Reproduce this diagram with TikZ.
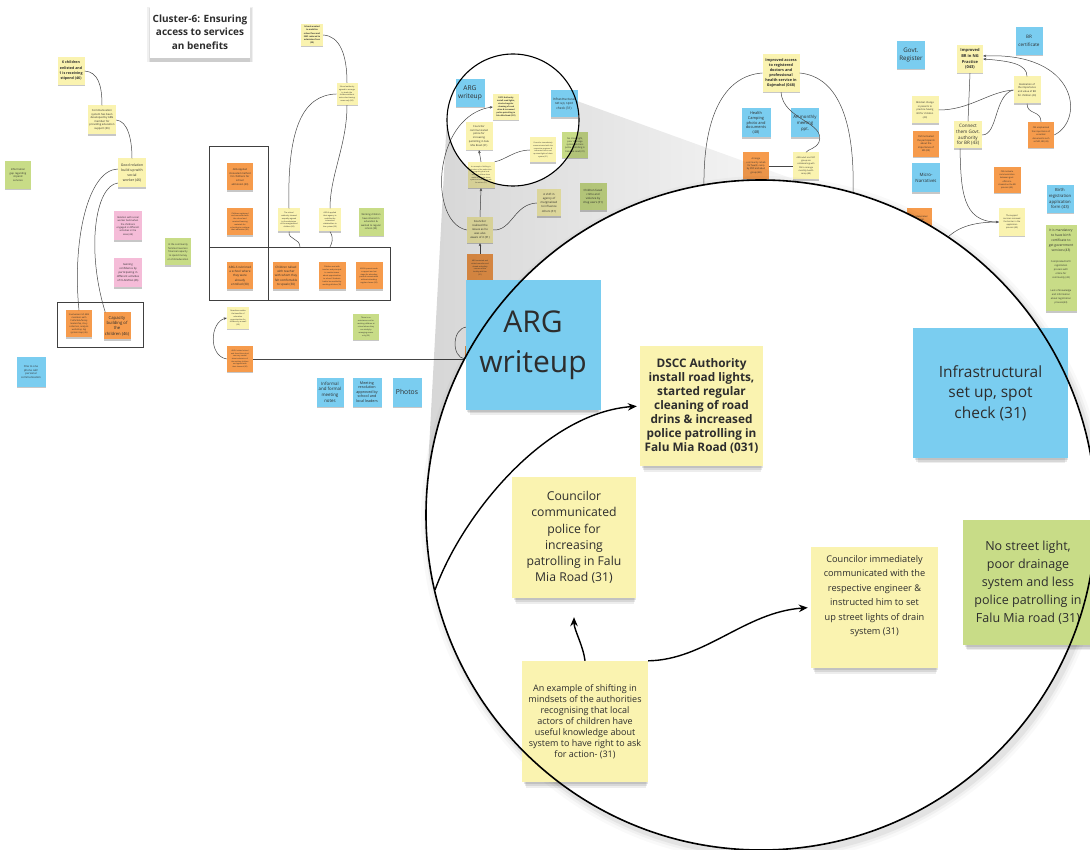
\documentclass[tikz,border=0pt]{standalone}
\usepackage{fontspec}
\setmainfont{Open Sans}
\usetikzlibrary{arrows.meta,shadows,fadings,calc}

\definecolor{noteyellow}{RGB}{250,243,176}
\definecolor{noteblue}{RGB}{122,205,240}
\definecolor{noteorange}{RGB}{246,155,76}
\definecolor{notegreen}{RGB}{200,220,135}
\definecolor{notepink}{RGB}{245,188,216}
\definecolor{notetext}{RGB}{45,45,45}
\definecolor{linkgrey}{RGB}{70,70,70}

\newcommand{\setfs}[2]{\fontsize{#1}{#2}\selectfont}

\tikzset{
  paper/.style={rectangle, inner sep=0pt, align=center, text=notetext},
  softshadow/.style={drop shadow={shadow xshift=0pt, shadow yshift=-1.3pt, opacity=0.22, fill=black}},
  deepshadow/.style={
    drop shadow={shadow xshift=1pt, shadow yshift=-3pt, opacity=0.10, fill=black, shadow scale=0.99},
    drop shadow={shadow xshift=1pt, shadow yshift=-6pt, opacity=0.09, fill=black, shadow scale=0.97},
    drop shadow={shadow xshift=1pt, shadow yshift=-9pt, opacity=0.07, fill=black, shadow scale=0.95}},
  cardshadow/.style={
    drop shadow={shadow xshift=0pt, shadow yshift=-2pt, opacity=0.06, fill=black, shadow scale=1.06},
    drop shadow={shadow xshift=0pt, shadow yshift=-3pt, opacity=0.07, fill=black, shadow scale=1.03},
    drop shadow={shadow xshift=0pt, shadow yshift=-4pt, opacity=0.08, fill=black, shadow scale=1.0}},
  sticky/.style 2 args={paper, softshadow, minimum width=#1, minimum height=#2},
  bignote/.style 2 args={paper, deepshadow, minimum width=#1, minimum height=#2},
  cY/.style={fill=noteyellow}, cB/.style={fill=noteblue}, cO/.style={fill=noteorange},
  cG/.style={fill=notegreen}, cP/.style={fill=notepink},
  link/.style={draw=linkgrey, line width=0.5pt},
  tip/.style={-{Stealth[length=3pt,width=2.6pt]}},
  biglink/.style={draw=black, line width=1.4pt, -{Stealth[length=9pt,width=7.5pt]}},
  frame/.style={draw=black!75, line width=0.6pt},
}

\begin{document}
\begin{tikzpicture}[x=1pt,y=-1pt]
\useasboundingbox (0,0) rectangle (1090,850);
\fill[white] (0,0) rectangle (1090,850);

% ---------- title ----------
\node[paper, fill=white, cardshadow, minimum width=100, minimum height=52, font=\setfs{10}{13.5}\bfseries] (title) at (200,32)
  {Cluster-6: Ensuring\\access to services\\an benefits};

% ---------- frames ----------
\draw[frame] (57,302) rectangle (143,347);
\draw[frame] (209,146) rectangle (268,300);
\draw[frame] (209,247) rectangle (390,300);

% ---------- stipend cluster ----------
\node[sticky={27}{28}, cY, font=\setfs{3.6}{5.3}\bfseries] (kids) at (71,71) {6 children\\enlisted and\\1 is receiving\\stipend (46)};
\node[sticky={28}{29}, cY, font=\setfs{2.7}{3.5}] (commsys) at (102,120) {Communication\\system has been\\developed by ARG\\member for\\providing education\\support (46)};
\node[sticky={28}{29}, cY, font=\setfs{3.5}{4.9}] (goodrel) at (132,173) {Good relation\\build up with\\social\\worker (46)};
\node[sticky={26}{28}, cG, font=\setfs{2.6}{3.6}] (infogap) at (18,175) {Information\\gap regarding\\stipend\\services};
\node[sticky={28}{29}, cP, font=\setfs{2.4}{3.4}] (relsw) at (128,226) {Relation with social\\worker build when\\the childrens\\engaged in different\\activities in the\\area (46)};
\node[sticky={28}{29}, cP, font=\setfs{2.7}{4}] (confid) at (128,273) {Gaining\\confidence by\\participating in\\different activities\\of CLAN/ELA (46)};
\node[sticky={26}{27}, cG, font=\setfs{2.4}{3.6}] (lesscap) at (178,252) {In the community\\families have less\\financial capacity\\to spend money\\on child education};
\node[sticky={26}{27}, cO, font=\setfs{2.2}{3.1}] (involve) at (79,324) {Involvement of ARG\\members with\\CLAN/ELA/family\\leadership, story\\collection, analysis\\workshop, big\\system map (46)};
\node[sticky={27}{27}, cO, font=\setfs{4.2}{5.2}] (capbuild) at (117,326) {Capacity\\building of\\the\\children (46)};
\node[sticky={29}{29}, cB, font=\setfs{2.7}{3.9}] (phone) at (31,372) {One to one\\phone call/\\personal\\communication};

\draw[link] (kids.east) .. controls (98,72) and (102,85) .. (commsys.north);
\draw[link] (commsys.east) .. controls (128,121) and (132,140) .. (goodrel.north);
\draw[link] ($(goodrel.west)+(0,-4)$) .. controls (88,170) and (72,240) .. (involve.north);
\draw[link] ($(goodrel.west)+(0,10)$) .. controls (95,186) and (86,250) .. ($(capbuild.north west)+(2,0)$);

% ---------- school admission cluster ----------
\node[sticky={22}{22}, cY, font=\setfs{2.1}{3.1}\bfseries] (fees) at (312,35) {School wanted\\to mobilize\\school fees and\\SMC reduced to\\admission fees\\(30)};
\node[sticky={21}{22}, cY, font=\setfs{1.9}{2.9}] (agreed) at (347,94) {School authority\\agreed to arrange\\to teach the\\children without\\extra class having\\exam only (30)};
\node[sticky={26}{27}, cO, font=\setfs{2.5}{3.7}] (innov) at (240,177) {ARG Applied\\innovated method\\for childrens for\\school\\admission (30)};
\node[sticky={26}{27}, cO, font=\setfs{1.9}{2.8}] (regist) at (240,222) {Children registered\\and connected with\\the school and\\received learning\\materials for\\schooling to continue\\their education (30)};
\node[sticky={26}{27}, cO, font=\setfs{3}{4.3}] (rubric) at (240,276) {ARG-6 rubricted\\a school where\\they were\\already\\enrolled (30)};
\node[sticky={26}{27}, cO, font=\setfs{3}{4.3}] (talked) at (286,276) {Children talked\\with teacher\\with whom they\\felt comfortable\\to speak (30)};
\node[sticky={27}{27}, cO, font=\setfs{1.9}{2.9}] (metteach) at (332,276) {Children met with\\teacher and principal\\to resolve issues\\about opportunities\\to school. Students\\had to be enrolled by\\working children (30)};
\node[sticky={27}{27}, cO, font=\setfs{1.9}{2.9}] (rapport) at (369,276) {ARG \& parent made\\a rapport and set\\stage for attending\\periodic examination\\without attending\\regular classes (30)};
\node[sticky={22}{23}, cY, font=\setfs{1.9}{2.9}] (empathy) at (289,220) {The school\\authority showed\\empathy agreed\\to the admission\\of the marginalized\\children (30)};
\node[sticky={22}{23}, cY, font=\setfs{1.9}{2.9}] (mobil) at (330,220) {ARG-6 applied\\their agency to\\mobilize the\\interested\\stakeholders in\\the system (30)};
\node[sticky={25}{28}, cG, font=\setfs{2.4}{3.5}] (workint) at (371,222) {Working children\\have interest in\\education \&\\wanted to regular\\school (30)};
\node[sticky={22}{22}, cY, font=\setfs{1.9}{2.9}] (guard) at (238,318) {Guardians realize\\the benefits of\\education\\opportunities for\\children by a small\\(30)};
\node[sticky={26}{26}, cO, font=\setfs{1.8}{2.7}] (visited) at (240,359) {ARG-6 visited school\\and found the school\\was very careful\\about admission of\\the working children\\and agreed with\\their demand (30)};
\node[sticky={26}{26}, cG, font=\setfs{1.9}{2.9}] (noassist) at (366,327) {There is no\\assistance cost for\\working children at\\school where they\\can study by\\arranging exams\\only (30)};
\node[sticky={27}{29}, cB, font=\setfs{4.4}{5.7}] (notes) at (330,392) {Informal\\and formal\\meeting\\notes};
\node[sticky={29}{29}, cB, font=\setfs{3.7}{4.6}] (resol) at (367,392) {Meeting\\resolution\\approved by\\school and\\local leaders};
\node[sticky={29}{29}, cB, font=\setfs{6.8}{8}] (photos) at (407,392) {Photos};

\coordinate (w1) at (300,247);
\coordinate (w2) at (330,247);
\draw[link] (fees.east) .. controls (340,36) and (347,55) .. (agreed.north);
\draw[link] (agreed.west) .. controls (302,95) and (287,130) .. (empathy.north);
\draw[link] (agreed.south) .. controls (347,145) and (330,175) .. (mobil.north);
\draw[link] (empathy.south) .. controls (288,240) and (300,238) .. (w1);
\draw[link] (mobil.south) .. controls (334,238) and (332,243) .. (w2);
\draw[link, tip] (visited.west) .. controls (208,356) and (210,322) .. (guard.west);

% ---------- street light cluster ----------
\node[sticky={29}{28}, cB, font=\setfs{6.6}{8.4}] (sARG) at (470,93) {ARG\\writeup};
\node[sticky={26}{26}, cY, font=\setfs{2}{3.1}\bfseries] (sDSCC) at (506,107) {DSCC Authority\\install road lights,\\started regular\\cleaning of road\\drins \& increased\\police patrolling in\\Falu Mia Road (031)};
\node[sticky={27}{27}, cB, font=\setfs{3.3}{4.4}] (sINF) at (564,104) {Infrastructural\\set up, spot\\check (31)};
\node[sticky={27}{28}, cY, font=\setfs{2.6}{3.8}] (sCC) at (479,136) {Councilor\\communicated\\police for\\increasing\\patrolling in Falu\\Mia Road (31)};
\node[sticky={26}{25}, cY, font=\setfs{1.8}{2.8}] (sCI) at (543,150) {Councilor immediately\\communicated with the\\respective engineer \&\\instructed him to set\\up street lights of drain\\system (31)};
\node[sticky={26}{26}, cG, font=\setfs{2.3}{3.3}] (sNSL) at (575,145) {No street light,\\poor drainage\\system and less\\police patrolling in\\Falu Mia road (31)};
\node[sticky={27}{26}, cY, font=\setfs{1.7}{2.7}] (sEX) at (481,175) {An example of shifting in\\mindsets of the authorities\\recognising that local\\actors of children have\\useful knowledge about\\system to have right to ask\\for action- (31)};
\node[sticky={24}{27}, cY, font=\setfs{2.8}{4.1}] (shift) at (549,203) {A shift in\\agency of\\marginalized\\to influence\\others (31)};
\node[sticky={27}{27}, cG, font=\setfs{2.8}{4.1}] (crime) at (593,197) {Children faced\\crime and\\violence by\\drug users (31)};
\node[sticky={26}{26}, cY, font=\setfs{2.8}{4}] (realised) at (480,230) {Councilor\\realised the\\issues as he\\was also\\aware of it (31)};
\node[sticky={26}{28}, cO, font=\setfs{1.8}{2.8}] (contact) at (480,268) {ARG contacted and\\visited councilor and\\shared real safety\\concern of the\\locality with him\\(31)};
\node[sticky={26}{26}, cY, font=\setfs{4}{5.8}] (member) at (480,327) {ARG\\Membership\\engaged\\(31)};
\node[sticky={26}{26}, cO] (memorange) at (478,359) {};

\draw[link, tip] (realised.north) -- (sEX.south);
\draw[link, tip] (contact.north) -- (realised.south);
\draw[link] (realised.east) .. controls (512,231) and (514,204) .. (shift.west);
\draw[link, tip] (realised.west) .. controls (445,226) and (437,190) .. (444,160) .. controls (451,128) and (470,110) .. (sDSCC.west);
\draw[link] (sEX.north east) .. controls (505,160) and (515,150) .. (sCI.west);
\draw[link, tip] (sEX.north) -- (sCC.south);
\draw[link] (member.west) .. controls (452,328) and (451,357) .. (memorange.west);
\draw[link] (visited.east) -- (memorange.west);

% ---------- health cluster ----------
\node[sticky={37}{38}, cY, font=\setfs{3.8}{5}\bfseries] (health) at (781,73) {Improved access\\to registered\\doctors and\\professional\\health service in\\Gojmohol (048)};
\node[sticky={29}{29}, cB, font=\setfs{3.9}{4.8}] (hcamp) at (756,123) {Health\\Camping\\photo and\\documents\\(48)};
\node[sticky={28}{29}, cB, font=\setfs{4.3}{6}] (mppt) at (805,123) {AR monthly\\meeting\\ppt.};
\node[sticky={26}{27}, cO, font=\setfs{2.3}{3.4}] (arrange) at (756,166) {Arrange\\community rehab\\for health camp\\by NYC and adult\\group (48)};
\node[sticky={26}{27}, cY, font=\setfs{2.1}{3.2}] (collab) at (806,166) {ARG adult and NYC\\group are\\collaborating with\\DN to arrange\\monthly health\\camp (48)};

\coordinate (hl) at (704,187);
\coordinate (hr) at (853,194);
\draw[link] (health.west) .. controls (722,76) and (703,120) .. (hl);
\draw[link] (health.east) .. controls (840,77) and (855,125) .. (hr);
\draw[link] (health.south) .. controls (783,120) and (826,122) .. (819,142) .. controls (816,149) and (808,149) .. (collab.north);
\draw[link] (arrange.east) -- (collab.west);

% ---------- birth registration cluster ----------
\node[sticky={28}{28}, cB, font=\setfs{6.2}{8.2}] (govreg) at (911,55) {Govt.\\Register};
\node[sticky={27}{28}, cB, font=\setfs{4.6}{7.3}] (brcert) at (1029,41) {BR\\certificate};
\node[sticky={26}{28}, cY, font=\setfs{4}{5.6}\bfseries] (brimp) at (970,59) {Improved\\BR in NG\\Practice\\(043)};
\node[sticky={27}{27}, cY, font=\setfs{2.5}{3.8}] (realiz) at (1027,90) {Realization of\\the importance\\and value of BR\\for children (43)};
\node[sticky={27}{27}, cY, font=\setfs{2.4}{3.7}] (mindset) at (925,110) {Mindset change\\in parents to\\practice having\\BR for children\\(43)};
\node[sticky={28}{27}, cY, font=\setfs{4.6}{5.8}] (connect) at (968,135) {Connect\\them Govt.\\authority\\for BR (43)};
\node[sticky={26}{26}, cO, font=\setfs{2.4}{3.6}] (cmmot) at (926,144) {CM motivated\\the participants\\about the\\importance of\\BR (43)};
\node[sticky={26}{26}, cO, font=\setfs{2.2}{3.4}] (cmemph) at (1041,135) {CM emphasized\\the importance of\\essential\\documents such\\as NID, BR (43)};
\node[sticky={28}{29}, cB, font=\setfs{4.4}{6.2}] (micro) at (926,178) {Micro-\\Narratives};
\node[sticky={27}{26}, cO, font=\setfs{2.1}{3.2}] (cmcomm) at (1007,180) {CM motivate\\communication\\between govt.\\official to\\streamline the BR\\process (43)};
\node[sticky={27}{28}, cB, font=\setfs{4.2}{5.8}] (brform) at (1060,199) {Birth\\registration\\application\\form (43)};
\node[sticky={25}{30}, cO, font=\setfs{2.2}{3.3}] (cmlocal) at (919,223) {CM collaborated\\with local\\government\\officials for\\the BR (43)};
\node[sticky={26}{28}, cY, font=\setfs{2.1}{3.2}] (support) at (1012,222) {The support\\services removed\\the barrier in the\\application\\process (43)};
\node[sticky={31}{32}, cG, font=\setfs{3.3}{5}] (mandat) at (1061,241) {It is mandatory\\to have birth\\certificate to\\get government\\services (43)};
\node[sticky={31}{25}, cG, font=\setfs{2.4}{4.1}] (complic) at (1061,270) {Complicated birth\\registration\\process with\\online for\\community (43)};
\node[sticky={31}{29}, cG, font=\setfs{2.4}{4.1}] (lackkn) at (1061,297) {Lack of knowledge\\and information\\about registration\\process(43)};

\coordinate (ce) at (947,238);
\draw[link] (brimp.south) -- (connect.north);
\draw[link] (mindset.east) .. controls (970,110) and (988,92) .. (realiz.west);
\draw[link] (connect.east) .. controls (998,135) and (994,95) .. (realiz.west);
\draw[link, tip] (realiz.north) .. controls (1027,64) and (1010,61) .. (brimp.east);
\draw[link, tip] (cmemph.east) .. controls (1085,120) and (1078,52) .. ($(brimp.east)+(0,-3)$);
\draw[link] (realiz.south) .. controls (1027,115) and (1041,110) .. (cmemph.north);
\draw[link, tip] ($(connect.south)+(-8,0)$) .. controls (961,190) and (962,222) .. (support.west);
\draw[link] (ce) .. controls (960,225) and (978,222) .. (support.west);

% ---------- magnifier cone ----------
\fill[black, fill opacity=0.16, path fading=east]
  (426.5,496.8) -- (893,215)
  -- plot[domain=-17:183.11, samples=60] ({513+66*cos(\x)}, {120+66*sin(\x)}) -- cycle;

% ---------- magnified view ----------
\foreach \r/\o in {343/0.025, 340/0.035, 337.5/0.05}
  \fill[black, opacity=\o] (764,519) circle[radius=\r];
\fill[white] (761,515) circle[radius=335];

\node[bignote={135}{129}, cB, font=\setfs{30}{40}] (bARG) at (533,345) {ARG\\writeup};
\node[bignote={123}{120}, cY, font=\setfs{11.8}{14}\bfseries] (bDSCC) at (701.5,406) {DSCC Authority\\install road lights,\\started regular\\cleaning of road\\drins \& increased\\police patrolling in\\Falu Mia Road (031)};
\node[bignote={155}{130}, cB, font=\setfs{15.5}{20.5}] (bINF) at (990.5,393) {Infrastructural\\set up, spot\\check (31)};
\node[bignote={124}{121}, cY, font=\setfs{12.2}{16.3}] (bCC) at (574,537.5) {Councilor\\communicated\\police for\\increasing\\patrolling in Falu\\Mia Road (31)};
\node[bignote={130}{125}, cG, font=\setfs{12.5}{18}] (bNSL) at (1028,582.5) {No street light,\\poor drainage\\system and less\\police patrolling in\\Falu Mia road (31)};
\node[bignote={127}{121}, cY, font=\setfs{9.2}{14.5}] (bCI) at (874.5,607.5) {Councilor immediately\\communicated with the\\respective engineer \&\\instructed him to set\\up street lights of drain\\system (31)\\[10pt]\mbox{}};
\node[bignote={126}{121}, cY, font=\setfs{9}{11}] (bEX) at (585,721.5) {An example of shifting in\\mindsets of the authorities\\recognising that local\\actors of children have\\useful knowledge about\\system to have right to ask\\for action- (31)};

\coordinate (bEdge) at (435,590);
\draw[biglink, shorten >=3pt] (bEdge) .. controls (462,515) and (545,413) .. (bDSCC.west);
\draw[biglink, shorten >=19pt] (bEX.north) .. controls (583,645) and (574,630) .. (bCC.south);
\draw[biglink, shorten >=3pt] (bEX.north east) .. controls (705,660) and (745,612) .. (bCI.west);

\draw[line width=1.6pt] (761,515) circle[radius=335];
\draw[line width=1.1pt] (513,120) circle[radius=66];
\end{tikzpicture}
\end{document}
